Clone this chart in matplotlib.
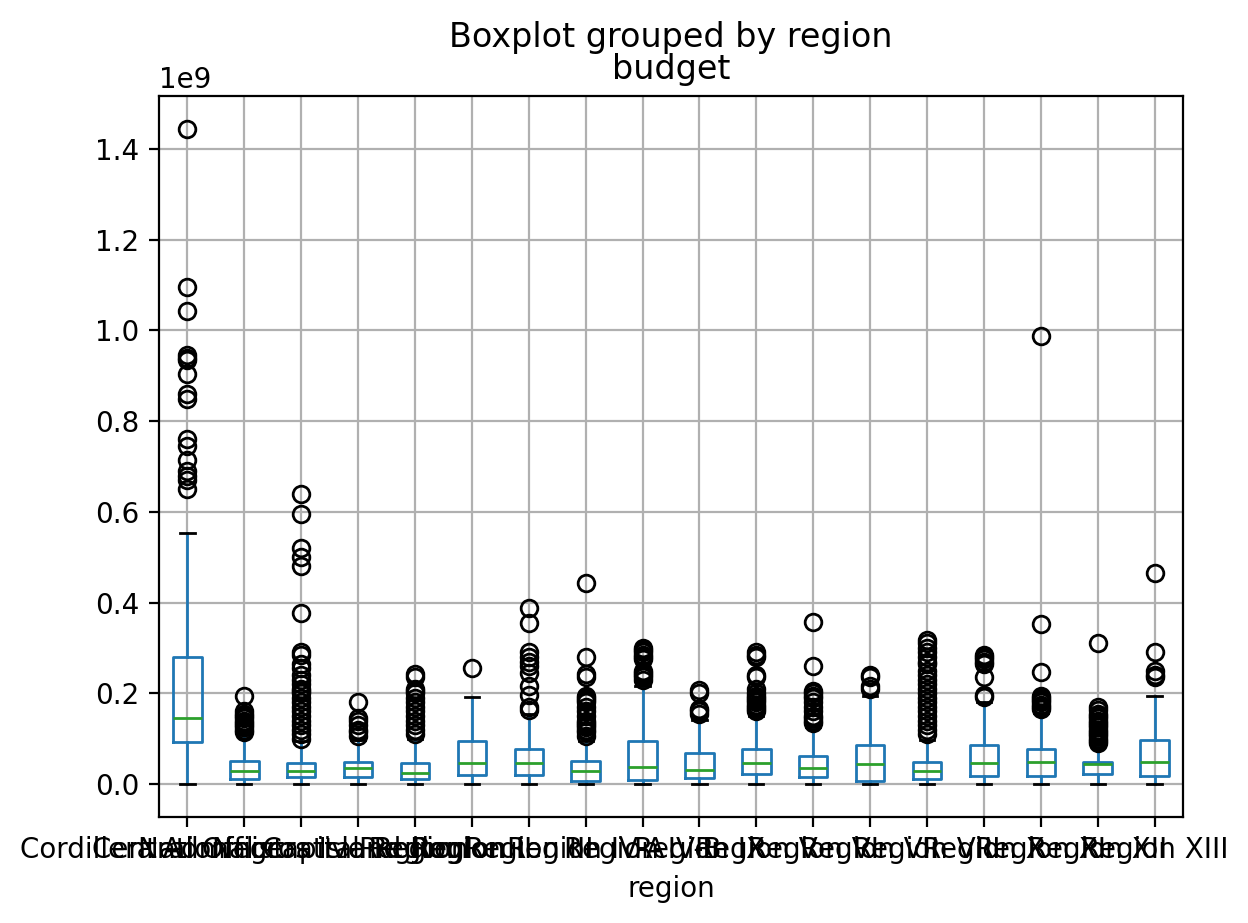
"""
Budget by region, boxplot (pandas-style look) rebuilt from read-off stats.
"""

import matplotlib
matplotlib.use("Agg")
import matplotlib.pyplot as plt

# values in units of 1e9
regions = [
    "Central Office", "Cordillera Administrative Region", "National Capital Region",
    "Negros Island Region", "Region I", "Region II", "Region III", "Region IV-A",
    "Region IV-B", "Region IX", "Region V", "Region VI", "Region VII", "Region VIII",
    "Region X", "Region XI", "Region XII", "Region XIII",
]
q1 = [0.093, 0.010, 0.015, 0.015, 0.010, 0.020, 0.019, 0.007, 0.009,
      0.013, 0.023, 0.015, 0.007, 0.011, 0.018, 0.018, 0.021, 0.018]
med = [0.145, 0.029, 0.028, 0.035, 0.024, 0.046, 0.046, 0.028, 0.037,
       0.031, 0.046, 0.035, 0.043, 0.028, 0.046, 0.048, 0.043, 0.048]
q3 = [0.279, 0.050, 0.047, 0.048, 0.047, 0.095, 0.077, 0.050, 0.095,
      0.069, 0.077, 0.062, 0.086, 0.048, 0.085, 0.077, 0.048, 0.096]
whis_lo = [0.0] * 18
whis_hi = [0.553, 0.108, 0.095, 0.098, 0.100, 0.191, 0.155, 0.095, 0.215,
           0.141, 0.150, 0.125, 0.195, 0.097, 0.180, 0.156, 0.085, 0.194]
fliers = [
    [1.445, 1.095, 1.043, 0.945, 0.94, 0.935, 0.905, 0.86, 0.85, 0.76, 0.745,
     0.715, 0.69, 0.68, 0.67, 0.65],
    [0.195, 0.16, 0.155, 0.15, 0.145, 0.14, 0.135, 0.13, 0.125, 0.12, 0.115],
    [0.64, 0.595, 0.52, 0.50, 0.48, 0.378, 0.29, 0.285, 0.265, 0.255, 0.24,
     0.23, 0.22, 0.21, 0.205, 0.20, 0.19, 0.18, 0.17, 0.16, 0.15, 0.14, 0.13,
     0.12, 0.11, 0.10],
    [0.18, 0.145, 0.14, 0.13, 0.12, 0.115, 0.105],
    [0.243, 0.235, 0.21, 0.205, 0.20, 0.19, 0.18, 0.17, 0.16, 0.15, 0.14,
     0.13, 0.12, 0.11],
    [0.255],
    [0.387, 0.354, 0.292, 0.28, 0.27, 0.26, 0.244, 0.215, 0.196, 0.17, 0.163],
    [0.444, 0.281, 0.242, 0.235, 0.195, 0.19, 0.185, 0.18, 0.17, 0.16, 0.15,
     0.14, 0.135, 0.13, 0.125, 0.12, 0.115, 0.105],
    [0.30, 0.295, 0.29, 0.285, 0.28, 0.275, 0.25, 0.245, 0.24, 0.235, 0.23],
    [0.207, 0.20, 0.165, 0.16, 0.155],
    [0.292, 0.285, 0.28, 0.24, 0.235, 0.21, 0.20, 0.195, 0.19, 0.185, 0.18,
     0.175, 0.17, 0.165, 0.16],
    [0.357, 0.26, 0.205, 0.20, 0.195, 0.19, 0.18, 0.17, 0.16, 0.15, 0.145,
     0.14, 0.135],
    [0.24, 0.235, 0.215, 0.21],
    [0.317, 0.31, 0.30, 0.29, 0.28, 0.27, 0.265, 0.25, 0.24, 0.229, 0.22,
     0.21, 0.20, 0.19, 0.18, 0.17, 0.16, 0.15, 0.14, 0.13, 0.12, 0.11],
    [0.285, 0.28, 0.275, 0.27, 0.265, 0.237, 0.197, 0.1925],
    [0.988, 0.353, 0.248, 0.195, 0.19, 0.185, 0.18, 0.175, 0.17, 0.165],
    [0.31, 0.17, 0.163, 0.155, 0.15, 0.145, 0.14, 0.135, 0.13, 0.125, 0.12,
     0.115, 0.11, 0.105, 0.10, 0.095, 0.09],
    [0.465, 0.29, 0.25, 0.24, 0.235],
]

scale = 1e9
stats = []
for i, name in enumerate(regions):
    stats.append({
        "label": name,
        "q1": q1[i] * scale, "med": med[i] * scale, "q3": q3[i] * scale,
        "whislo": whis_lo[i] * scale, "whishi": whis_hi[i] * scale,
        "fliers": [v * scale for v in fliers[i]],
    })

fig = plt.figure(figsize=(6.24, 4.615), dpi=200)
ax = fig.add_axes([0.1274, 0.1151, 0.8205, 0.781])

ax.bxp(
    stats,
    positions=range(1, len(regions) + 1),
    widths=0.5,
    boxprops=dict(color="#1f77b4"),
    whiskerprops=dict(color="#1f77b4"),
    medianprops=dict(color="#2ca02c"),
    capprops=dict(color="k"),
    flierprops=dict(marker="o", markerfacecolor="none", markeredgecolor="k"),
)
ax.grid(True)
ax.set_axisbelow(True)
ax.set_xlabel("region")
ax.set_title("budget")
fig.suptitle("Boxplot grouped by region", x=671 / 1248, y=0.977)

fig.savefig("out.png", dpi=200)
